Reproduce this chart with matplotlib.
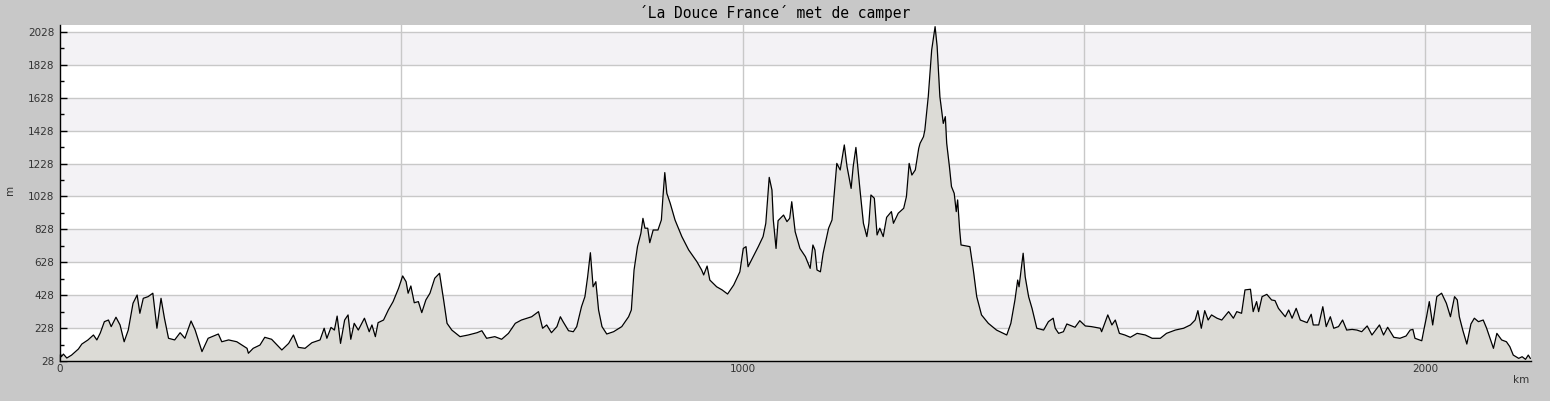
import numpy as np
import matplotlib
matplotlib.use("Agg")
import matplotlib.pyplot as plt
from matplotlib.ticker import MultipleLocator, FixedLocator

# distance along the route (km) and elevation (m)
km = [
    0, 2, 5, 10, 17, 27, 32, 41, 49, 54, 59, 65, 71, 75, 82, 88, 94, 100,
    107, 113, 117, 122, 129, 136, 142, 148, 153, 159, 168, 176, 183, 192,
    198, 208, 217, 232, 237, 247, 259, 274, 276, 283, 293, 300, 310, 318,
    325, 335, 342, 349,
    359, 369, 381, 387, 391, 397, 402, 406, 411, 417, 422, 426, 431, 437,
    446, 453, 457, 462, 466, 474, 481, 488, 496, 502, 507, 510, 514, 519,
    525, 530, 536, 542, 549, 556, 562, 567, 574, 586, 598, 611, 618, 625,
    637, 647, 657, 667, 676, 691, 701, 707, 713, 720, 728,
    733, 737, 745, 752, 757, 764, 769, 773, 777, 781, 785, 789, 794, 801,
    811, 823, 833, 837, 841, 846, 851, 854, 857, 861, 864, 869, 876, 881,
    883, 886, 889, 894, 901, 911, 921, 928, 933, 940, 943, 948, 952, 962,
    970, 978, 987, 996, 1001, 1005, 1008, 1013, 1023, 1030, 1034, 1039,
    1043, 1045, 1049, 1052, 1060, 1065, 1069, 1072, 1077, 1084, 1092,
    1099, 1103, 1106,
    1109, 1114, 1118, 1126, 1131, 1138, 1143, 1149, 1153, 1159, 1162,
    1166, 1172, 1177, 1182, 1185, 1188, 1193, 1197, 1201, 1206, 1211,
    1218, 1221, 1228, 1236, 1240, 1244, 1248, 1253, 1258, 1260, 1265,
    1267, 1272, 1277, 1282, 1285, 1289, 1294, 1297, 1299, 1303, 1306,
    1310, 1313, 1315, 1318, 1320, 1333, 1338, 1343, 1350, 1360, 1372,
    1387, 1393, 1399, 1403, 1405, 1408, 1411, 1414, 1419, 1424, 1431,
    1441, 1448, 1455,
    1458, 1463, 1470, 1475, 1487, 1494, 1502, 1511, 1524, 1526, 1535,
    1541, 1546, 1552, 1560, 1568, 1578, 1590, 1600, 1612, 1621, 1634,
    1646, 1656, 1663, 1667, 1672, 1677, 1682, 1687, 1695, 1702, 1712,
    1719, 1724, 1731, 1736, 1744, 1748, 1753, 1756, 1761, 1768, 1775,
    1780, 1785, 1795, 1800, 1805, 1811,
    1817, 1827, 1833, 1836, 1844, 1850, 1855, 1861, 1866, 1873, 1879,
    1885, 1893, 1900, 1907, 1915, 1922, 1933, 1939, 1945, 1954, 1963,
    1972, 1978, 1982, 1985, 1995, 1998, 2002, 2006, 2011, 2017, 2024,
    2031, 2037, 2043, 2047, 2050, 2055, 2061, 2067, 2072, 2078, 2085,
    2090, 2095, 2100, 2105, 2112, 2119, 2124, 2129, 2137, 2142, 2147,
    2151, 2154,
]
elev = [
    80, 54, 70, 46, 64, 101, 131, 156, 186, 156, 198, 267, 277, 237, 294,
    247, 145, 216, 379, 429, 318, 409, 419, 440, 227, 409, 288, 166, 156,
    200, 166, 271, 216, 85, 166, 192, 145, 156, 145, 105, 75, 105, 125,
    172, 160, 125, 95, 135, 186, 111,
    105, 139, 156, 227, 166, 232, 216, 301, 135, 277, 308, 160, 257, 216,
    288, 206, 247, 176, 261, 277, 338, 389, 470, 545, 510, 440, 484, 382,
    389, 322, 399, 440, 531, 561, 399, 257, 216, 176, 186, 200, 212, 166,
    176, 160, 196, 257, 277, 297, 328, 227, 247, 200, 237,
    297, 267, 212, 206, 237, 358, 419, 540, 686, 479, 510, 338, 237, 192,
    206, 237, 297, 338, 581, 723, 804, 895, 835, 835, 747, 824, 824, 885,
    1007, 1173, 1047, 986, 885, 784, 703, 662, 632, 581, 551, 605, 520,
    479, 460, 435, 490, 570, 712, 723, 601, 642, 723, 784, 865, 1144,
    1067, 885, 712, 881, 915, 875, 895, 996, 814, 712, 662, 591, 733, 703,
    581, 570, 683, 835, 885, 1229, 1189, 1341, 1209, 1077, 1209, 1326,
    1067, 865, 784, 865, 1037, 1017, 794, 835, 784, 901, 936, 865, 926,
    956, 1027, 1229, 1158, 1189, 1320, 1351, 1391, 1432, 1635, 1918, 2060,
    1939, 1635, 1472, 1513, 1351, 1209, 1088, 1047, 936, 1007, 824, 733,
    723, 581, 419, 308, 257, 216, 186, 257, 399, 520, 479, 581, 683, 540,
    419, 348, 227, 216, 267, 288,
    227, 196, 206, 253, 233, 273, 241, 237, 227, 206, 308, 247, 277, 196,
    186, 172, 196, 186, 166, 166, 196, 216, 227, 247, 277, 334, 227, 334,
    277, 308, 288, 277, 328, 288, 328, 318, 460, 464, 328, 389, 328, 419,
    433, 399, 395, 348, 297, 338, 288, 348,
    277, 261, 312, 247, 247, 358, 237, 297, 227, 237, 277, 216, 220, 216,
    206, 241, 186, 247, 186, 233, 172, 166, 180, 216, 220, 166, 151, 216,
    297, 389, 247, 419, 440, 379, 297, 419, 399, 297, 216, 131, 253, 288,
    267, 277, 227, 166, 105, 196, 156, 145, 115, 64, 44, 54, 38, 64, 44,
]

title = "´La Douce France´ met de camper"
y_ticks = [28, 228, 428, 628, 828, 1028, 1228, 1428, 1628, 1828, 2028]
x_ticks = [0, 1000, 2000]

bg = "#c8c8c8"
band = "#f3f2f5"
grid = "#c8c8c8"

fig = plt.figure(figsize=(15.5, 4.01), dpi=100, facecolor=bg)
ax = fig.add_axes([60 / 1550, 40 / 401, 1471 / 1550, 336 / 401])
ax.set_facecolor("white")

ymin, ymax = 28, 2070
xmax = 2155

# alternating horizontal bands
edges = y_ticks + [ymax]
for i in range(len(edges) - 1):
    if i % 2 == 1:
        ax.axhspan(edges[i], edges[i + 1], color=band, lw=0, zorder=0)

for y in y_ticks[1:]:
    ax.axhline(y, color=grid, lw=1, zorder=1)
for x in range(500, xmax, 500):
    ax.axvline(x, color=grid, lw=1, zorder=1)

ax.fill_between(km, elev, ymin, color="#dcdbd6", lw=0, zorder=2)
ax.plot(km, elev, color="black", lw=0.9, zorder=3)

ax.set_xlim(0, xmax)
ax.set_ylim(ymin, ymax)

ax.yaxis.set_major_locator(FixedLocator(y_ticks))
ax.yaxis.set_minor_locator(FixedLocator([y + 100 for y in y_ticks]))
ax.xaxis.set_major_locator(FixedLocator(x_ticks))
ax.xaxis.set_minor_locator(MultipleLocator(100))

ax.tick_params(axis="both", which="major", direction="in", length=5,
               width=1, labelsize=7.5, labelcolor="#333333", color="black")
ax.tick_params(axis="both", which="minor", direction="in", length=3,
               width=1, color="black")
ax.tick_params(axis="y", pad=4)
ax.tick_params(axis="x", pad=2)

for side in ["top", "right"]:
    ax.spines[side].set_visible(False)
for side in ["left", "bottom"]:
    ax.spines[side].set_color("black")
    ax.spines[side].set_linewidth(1)
    ax.spines[side].set_zorder(4)

fig.text(775 / 1550, 1 - 13 / 401, title, ha="center", va="center",
         family="DejaVu Sans Mono", fontsize=10.5, color="black")
fig.text(10 / 1550, 1 - 190 / 401, "m", ha="center", va="center",
         rotation=90, fontsize=7.5, color="#333333")
fig.text(1521 / 1550, 1 - 380 / 401, "km", ha="center", va="center",
         fontsize=7.5, color="#333333")

fig.savefig("out.png", dpi=100, facecolor=bg)
